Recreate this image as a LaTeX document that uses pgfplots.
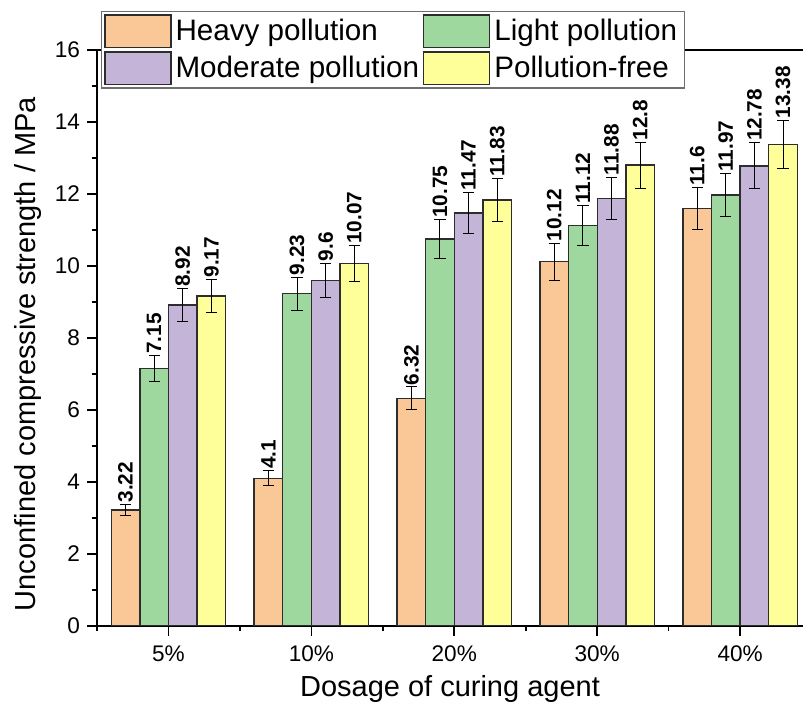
\documentclass[border=0pt]{standalone}
\usepackage{fontspec}
\setmainfont{Liberation Sans}
\usepackage{pgfplots}
\usepackage{pgfplotstable}
\pgfplotsset{compat=1.18}
\definecolor{cHeavy}{RGB}{250,200,150}
\definecolor{cLight}{RGB}{159,216,159}
\definecolor{cMod}{RGB}{195,180,216}
\definecolor{cFree}{RGB}{255,255,153}
\definecolor{edgec}{RGB}{45,45,45}

\pgfplotstableread{
x h he l le m me p pe
0 3.22 0.16 7.15 0.36 8.92 0.45 9.17 0.46
1 4.1 0.21 9.23 0.46 9.6 0.48 10.07 0.50
2 6.32 0.32 10.75 0.54 11.47 0.57 11.83 0.59
3 10.12 0.51 11.12 0.56 11.88 0.59 12.8 0.64
4 11.6 0.58 11.97 0.60 12.78 0.64 13.38 0.67
}\datatable

\begin{document}
\begin{tikzpicture}
\begin{axis}[
  scale only axis, width=353pt, height=288pt,
  xmin=-0.5, xmax=4.44, ymin=0, ymax=16,
  axis x line*=bottom, axis y line*=left,
  axis line style={black, line width=1pt},
  ybar, bar width=14.3pt,
  xtick={0,1,2,3,4},
  xticklabels={5\%,10\%,20\%,30\%,40\%},
  minor xtick={-0.5,0.5,1.5,2.5,3.5},
  ytick={0,2,...,16},
  minor ytick={1,3,...,15},
  tick align=outside,
  major tick length=5pt, minor tick length=2.6pt,
  tick style={black, line width=0.8pt},
  /pgf/number format/assume math mode=true,
  tick label style={font=\fontsize{11.3}{13.5}\selectfont},
  xticklabel style={yshift=-1.5pt},
  every axis x label/.style={at={(axis description cs:0.5,-0.109)}, anchor=center, font=\fontsize{14.5}{17}\selectfont},
  every axis y label/.style={at={(axis description cs:-0.0977,0.472)}, rotate=90, anchor=center, font=\fontsize{14.5}{17}\selectfont},
  xlabel={Dosage of curing agent},
  ylabel={Unconfined compressive strength / MPa},
  legend columns=2,
  legend cell align=left,
  legend style={at={(axis description cs:0.005,1.068)}, anchor=north west,
    draw={rgb,255:red,110;green,110;blue,110}, line width=0.6pt,
    font=\fontsize{14.8}{17}\selectfont,
    inner xsep=1.5pt, inner ysep=1.5pt, row sep=1.5pt,
    /tikz/every even column/.style={column sep=0pt}},
  legend image code/.code={\draw[#1] (0pt,-8.1pt) rectangle (33pt,8.1pt);},
  nodes near coords,
  point meta=explicit symbolic,
  every node near coord/.append style={font=\bfseries\fontsize{10.4}{12}\selectfont, yshift=\eoff pt, rotate=90, anchor=west, inner sep=0.6pt, black},
  error bars/y dir=both, error bars/y explicit,
  error bars/error bar style={black, line width=0.5pt},
  error bars/error mark options={rotate=90, mark size=2.8pt, line width=0.5pt, black},
]
\addplot[fill=cHeavy, draw=edgec, line width=0.7pt, bar shift=-21.45pt,
  visualization depends on={18*\thisrow{he} \as \eoff}]
  table[x=x, y=h, y error=he, meta=h] {\datatable};
\addplot[fill=cLight, draw=edgec, line width=0.7pt, bar shift=-7.15pt,
  visualization depends on={18*\thisrow{le} \as \eoff}]
  table[x=x, y=l, y error=le, meta=l] {\datatable};
\addplot[fill=cMod, draw=edgec, line width=0.7pt, bar shift=7.15pt,
  visualization depends on={18*\thisrow{me} \as \eoff}]
  table[x=x, y=m, y error=me, meta=m] {\datatable};
\addplot[fill=cFree, draw=edgec, line width=0.7pt, bar shift=21.45pt,
  visualization depends on={18*\thisrow{pe} \as \eoff}]
  table[x=x, y=p, y error=pe, meta=p] {\datatable};
\legend{Heavy pollution, Light pollution, Moderate pollution, Pollution-free}
\draw[black, line width=1pt] (rel axis cs:0,1) -- (rel axis cs:1,1);
\end{axis}
\pgfresetboundingbox
\path (-48.5pt,-39pt) rectangle (353pt,313pt);
\end{tikzpicture}
\end{document}
